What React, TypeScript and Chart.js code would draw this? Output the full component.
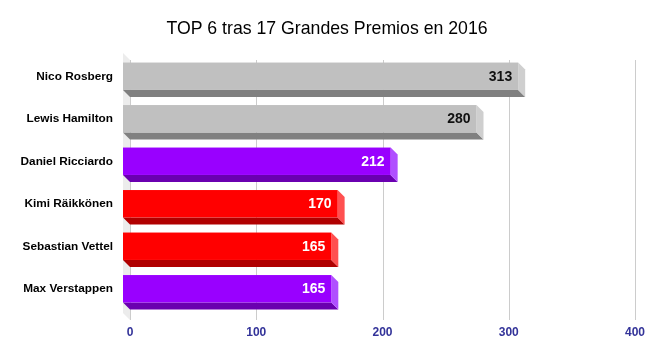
import React, { useEffect, useRef } from "react";
import { Chart, registerables } from "chart.js";

Chart.register(...registerables);

const TITLE = "TOP 6 tras 17 Grandes Premios en 2016";
const drivers = [
  "Nico Rosberg",
  "Lewis Hamilton",
  "Daniel Ricciardo",
  "Kimi Räikkönen",
  "Sebastian Vettel",
  "Max Verstappen",
];
const points = [313, 280, 212, 170, 165, 165];
const teams = ["mercedes", "mercedes", "redbull", "ferrari", "ferrari", "redbull"];
const xTicks = [0, 100, 200, 300, 400];

const PALETTE: Record<string, { front: string; bottom: string; side: string; text: string }> = {
  mercedes: { front: "#c0c0c0", bottom: "#808080", side: "#cfcfcf", text: "#111111" },
  redbull: { front: "#9900ff", bottom: "#6a00b0", side: "#b050ff", text: "#ffffff" },
  ferrari: { front: "#ff0000", bottom: "#b00000", side: "#ff5050", text: "#ffffff" },
};

const DEPTH = 7;

const threeD = {
  id: "threeD",
  beforeDatasetsDraw(chart: any) {
    const { ctx, chartArea } = chart;
    const xs = chart.scales.x;
    ctx.save();
    // left wall
    const x0 = xs.getPixelForValue(0);
    const top = chartArea.top - 2;
    const bottom = chartArea.bottom + 3;
    ctx.fillStyle = "#ececec";
    ctx.beginPath();
    ctx.moveTo(x0 - DEPTH, top - DEPTH);
    ctx.lineTo(x0, top);
    ctx.lineTo(x0, bottom);
    ctx.lineTo(x0 - DEPTH, bottom - DEPTH);
    ctx.closePath();
    ctx.fill();
    // grid lines
    ctx.strokeStyle = "#cccccc";
    ctx.lineWidth = 1;
    xTicks.forEach((t) => {
      const px = Math.round(xs.getPixelForValue(t)) + 0.5;
      ctx.beginPath();
      ctx.moveTo(px, top);
      ctx.lineTo(px, bottom);
      ctx.stroke();
    });
    ctx.restore();
  },
  afterDatasetsDraw(chart: any) {
    const { ctx } = chart;
    const meta = chart.getDatasetMeta(0);
    ctx.save();
    meta.data.forEach((bar: any, i: number) => {
      const p = PALETTE[teams[i]];
      const base = bar.base;
      const xe = bar.x;
      const t = bar.y - bar.height / 2;
      const b = bar.y + bar.height / 2;
      const d = DEPTH;
      // bottom face
      ctx.fillStyle = p.bottom;
      ctx.beginPath();
      ctx.moveTo(base - d, b - d);
      ctx.lineTo(xe - d, b - d);
      ctx.lineTo(xe, b);
      ctx.lineTo(base, b);
      ctx.closePath();
      ctx.fill();
      // right side face
      ctx.fillStyle = p.side;
      ctx.beginPath();
      ctx.moveTo(xe - d, t - d);
      ctx.lineTo(xe, t);
      ctx.lineTo(xe, b);
      ctx.lineTo(xe - d, b - d);
      ctx.closePath();
      ctx.fill();
      // front face
      ctx.fillStyle = p.front;
      ctx.fillRect(base - d, t - d, xe - base, b - t);
      // value label
      ctx.fillStyle = p.text;
      ctx.font = "bold 14px 'Liberation Sans', Arial, sans-serif";
      ctx.textAlign = "right";
      ctx.textBaseline = "middle";
      ctx.fillText(String(points[i]), xe - d - 6, bar.y - d + 0.5);
      // category label
      ctx.fillStyle = "#000000";
      ctx.font = "bold 11.8px 'Liberation Sans', Arial, sans-serif";
      ctx.fillText(drivers[i], 113, bar.y - d);
    });
    // title
    ctx.fillStyle = "#000000";
    ctx.font = "17.7px 'Liberation Sans', Arial, sans-serif";
    ctx.textAlign = "center";
    ctx.textBaseline = "middle";
    ctx.fillText(TITLE, 327, 29);
    ctx.restore();
  },
};

export default function App() {
  const ref = useRef<HTMLCanvasElement>(null);
  useEffect(() => {
    if (!ref.current) return;
    const chart = new Chart(ref.current, {
      type: "bar",
      data: {
        labels: drivers,
        datasets: [
          {
            data: points,
            backgroundColor: "rgba(0,0,0,0)",
            borderWidth: 0,
            categoryPercentage: 1,
            barPercentage: 0.645,
          },
        ],
      },
      options: {
        indexAxis: "y",
        responsive: false,
        animation: false,
        devicePixelRatio: 1,
        layout: { padding: { left: 0, right: 17, top: 62, bottom: 0 } },
        plugins: {
          legend: { display: false },
          title: { display: false },
          tooltip: { enabled: false },
        },
        scales: {
          x: {
            min: 0,
            max: 400,
            afterFit: (s: any) => {
              s.height = 39;
            },
            afterBuildTicks: (s: any) => {
              s.ticks = xTicks.map((v) => ({ value: v }));
            },
            grid: { display: false },
            border: { display: false },
            ticks: {
              color: "#333399",
              font: { family: "'Liberation Sans', Arial, sans-serif", size: 12, weight: "bold" },
              padding: 0,
              maxRotation: 0,
            },
          },
          y: {
            afterFit: (s: any) => {
              s.width = 130;
            },
            grid: { display: false },
            border: { display: false },
            ticks: { display: false },
          },
        },
      },
      plugins: [threeD],
    } as any);
    return () => chart.destroy();
  }, []);
  return (
    <div style={{ position: "fixed", left: 0, top: 0, width: 652, height: 356, background: "#ffffff" }}>
      <canvas ref={ref} width={652} height={356} style={{ display: "block" }} />
    </div>
  );
}
